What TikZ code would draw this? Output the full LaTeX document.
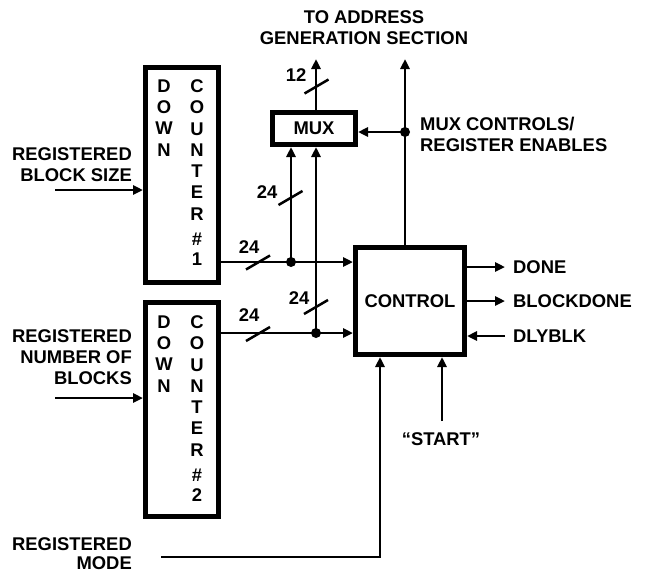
\documentclass[tikz,border=0pt]{standalone}
\usepackage{fontspec}
\setmainfont{Liberation Sans}
\usetikzlibrary{arrows.meta}
\begin{document}
\begin{tikzpicture}[x=1pt,y=-1pt,
  font=\fontsize{18.4}{21}\selectfont\bfseries,
  wire/.style={line width=2.8pt},
  arr/.style={wire,-{Triangle[length=10pt,width=9pt]}},
  blk/.style={draw,line width=5pt,inner sep=0pt},
  lbl/.style={inner sep=0pt},
  col/.style={inner sep=0pt,align=center,anchor=north,font=\fontsize{18.4}{21.3}\selectfont\bfseries},
  dot/.style={circle,fill,inner sep=0pt,minimum size=10pt},
  bus/.style={line width=2.5pt}]

\useasboundingbox (0,0) rectangle (645,573);

% blocks
\node[blk,minimum width=73pt,minimum height=215pt] (c1) at (182,175) {};
\node[blk,minimum width=73pt,minimum height=214pt] (c2) at (182,409.5) {};
\node[blk,minimum width=83pt,minimum height=32pt] (mux) at (314,128.5) {MUX};
\node[blk,minimum width=109pt,minimum height=107pt] (ctrl) at (410,301) {CONTROL};

% counter letters
\node[col] (c1d) at (164,79.4) {D\\O\\W\\N};
\node[col] (c1c) at (197,79.4) {C\\O\\U\\N\\T\\E\\R\\[3.7pt]\#\\[-1.3pt]1};
\node[col] (c2d) at (164,315.4) {D\\O\\W\\N};
\node[col] (c2c) at (197,315.4) {C\\O\\U\\N\\T\\E\\R\\[3.7pt]\#\\[-1.3pt]2};

% inputs
\coordinate (in1) at (55,190);
\draw[arr] (in1) -- (in1 -| c1.west);
\coordinate (in2) at (55,398);
\draw[arr] (in2) -- (in2 -| c2.west);
\coordinate (modein) at (161,557);
\coordinate (modecorner) at (380,557);
\draw[arr] (modein) -- (modecorner) -- (modecorner |- ctrl.south);
\coordinate (start) at (442,421);
\draw[arr] (start) -- (start |- ctrl.south);

% junctions
\node[dot] (j1) at (291,262) {};
\node[dot] (j2) at (316,333) {};
\node[dot] (jm) at (405,132) {};

% counter outputs
\draw[arr] (c1.east |- j1) -- (j1 -| ctrl.west);
\draw[arr] (j1.center) -- (j1.center |- mux.south);
\draw[arr] (c2.east |- j2) -- (j2 -| ctrl.west);
\draw[arr] (j2.center) -- (j2.center |- mux.south);

% upward outputs
\coordinate (muxtop) at (316,59);
\draw[arr] (muxtop |- mux.north) -- (muxtop);
\coordinate (top2) at (405,59);
\draw[arr] (top2 |- ctrl.north) -- (top2);
\draw[arr] (jm.center) -- (jm.center -| mux.east);

% control right side
\coordinate (done) at (505,267);
\draw[arr] (done -| ctrl.east) -- (done);
\coordinate (bdone) at (505,301);
\draw[arr] (bdone -| ctrl.east) -- (bdone);
\coordinate (dly) at (505,336);
\draw[arr] (dly) -- (dly -| ctrl.east);

% bus slashes
\coordinate (s1) at (258,262.5);
\coordinate (s2) at (290.5,198);
\coordinate (s3) at (316.5,86.5);
\coordinate (s4) at (258,334);
\coordinate (s5) at (316,307);
\foreach \n in {s1,s2,s3,s4,s5}{
  \draw[bus] ([shift={(-12,7)}]\n) -- ([shift={(12,-7)}]\n);
}

% bus labels
\node[lbl] (w1) at (249,247) {24};
\node[lbl] (w2) at (267,192) {24};
\node[lbl] (w3) at (249,315) {24};
\node[lbl] (w4) at (299,298) {24};
\node[lbl] (w5) at (296,75) {12};

% text labels
\node[lbl,anchor=east,align=right] (lb1) at (132,165) {REGISTERED\\BLOCK SIZE};
\node[lbl,anchor=east,align=right] (lb2) at (132,357.5) {REGISTERED\\NUMBER OF\\BLOCKS};
\node[lbl,anchor=east,align=right,font=\fontsize{18.4}{19}\selectfont\bfseries] (lb3) at (132,554) {REGISTERED\\MODE};
\node[lbl,align=center] (ta) at (364,28) {TO ADDRESS\\GENERATION SECTION};
\node[lbl,anchor=west,align=left] (mc) at (420,134) {MUX CONTROLS/\\REGISTER ENABLES};
\node[lbl] (st) at (441,439) {“START”};
\node[lbl,anchor=west] (tdone) at (513,267) {DONE};
\node[lbl,anchor=west] (tbdone) at (513,301) {BLOCKDONE};
\node[lbl,anchor=west] (tdly) at (513,336) {DLYBLK};
\end{tikzpicture}
\end{document}
